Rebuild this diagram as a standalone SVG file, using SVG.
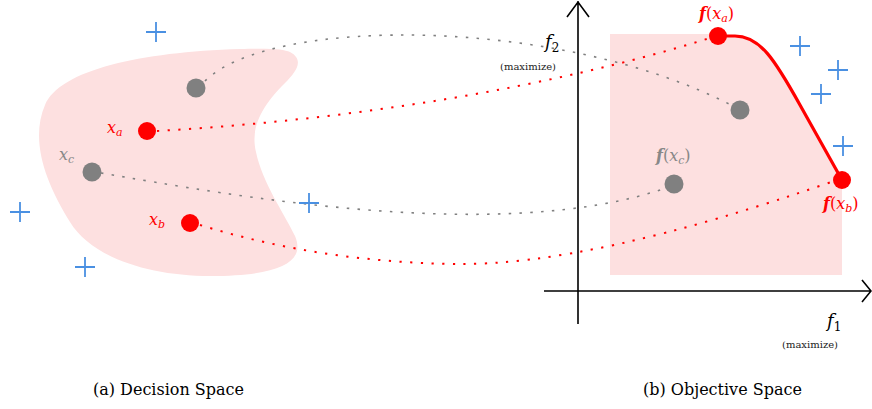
<svg xmlns="http://www.w3.org/2000/svg" width="872" height="409" viewBox="0 0 872 409">
<style>
.region{fill:#fde0e0;stroke:none}
.axis{stroke:#000;stroke-width:1.6;fill:none}
.dotg{stroke:#808080;stroke-width:1.6;fill:none;stroke-dasharray:2.5 8.3}
.dotr{stroke:#ff0000;stroke-width:2;fill:none;stroke-dasharray:2.2 8.5}
.front{stroke:#ff0000;stroke-width:3.2;fill:none}
.pr{fill:#ff0000}
.pg{fill:#808080}
.cross{stroke:#4a90e2;stroke-width:1.8;fill:none}
.lr{fill:#ff0000}
.lg{fill:#888888}
.it{font-style:italic}
.bi{font-style:italic;font-weight:bold}
</style>
<defs>
<path id="plus" class="cross" d="M-10,0 H10 M0,-10 V10"/>
</defs>
<g id="decision-region"><path class="region" d="M290,52 C305,60 296,72 285,83 C262,106 250,127 256,152 C262,182 285,215 295,236 C306,262 280,276 210,276 C150,276 92,258 70,222 C45,182 30,140 45,105 C60,70 140,52 240,49 C270,48 284,49 290,52 Z"/></g>
<g id="objective-region"><path class="region" d="M610,34 L718,34 L735,36 C760,36 775,60 800,105 L842,180 L842,275 L610,275 Z"/></g>
<g id="axes">
<path class="axis" d="M578,1 V324 M567,17 L578,2 L589,17"/>
<path class="axis" d="M544,291 H871 M862,280 L871,291 L862,302"/>
</g>
<g id="connectors">
<path class="dotg" d="M205,81 C270,16 560,16 733,106"/>
<path class="dotr" d="M157,131 C350,120 550,88 710,38"/>
<path class="dotg" d="M101,173 C230,195 500,245 666,188"/>
<path class="dotr" d="M200,225 Q320,262 455,264 Q590,266 834,181"/>
</g>
<g id="pareto-front"><path class="front" d="M718,36 L735,36 C760,36 775,60 800,105 L842,180"/></g>
<g id="points">
<circle id="g1" class="pg" cx="196" cy="88" r="9.5"/>
<circle id="xa" class="pr" cx="147" cy="131" r="9"/>
<circle id="xc" class="pg" cx="92" cy="172" r="9.5"/>
<circle id="xb" class="pr" cx="190" cy="223" r="9"/>
<circle id="fxa" class="pr" cx="718" cy="36" r="9"/>
<circle id="g2" class="pg" cx="740" cy="110" r="9.5"/>
<circle id="fxc" class="pg" cx="674" cy="184" r="9.5"/>
<circle id="fxb" class="pr" cx="842" cy="180" r="9"/>
</g>
<g id="crosses">
<use href="#plus" x="156" y="32"/>
<use href="#plus" x="20" y="212"/>
<use href="#plus" x="85" y="267"/>
<use href="#plus" x="309" y="203"/>
<use href="#plus" x="800" y="46"/>
<use href="#plus" x="838" y="70"/>
<use href="#plus" x="821" y="94"/>
<use href="#plus" x="843" y="146"/>
</g>
<g id="labels" font-family="'DejaVu Serif', serif">
<text class="lr it" x="107" y="133" font-size="16">x<tspan font-size="11" dy="3">a</tspan></text>
<text class="lg it" x="59" y="160" font-size="16">x<tspan font-size="11" dy="3">c</tspan></text>
<text class="lr it" x="149" y="225" font-size="16">x<tspan font-size="11" dy="3">b</tspan></text>
<text class="lr" x="699" y="19" font-size="16"><tspan class="bi">f</tspan>(<tspan class="it">x</tspan><tspan class="it" font-size="11" dy="3">a</tspan><tspan dy="-3">)</tspan></text>
<text class="lg" x="656" y="161" font-size="16"><tspan class="bi">f</tspan>(<tspan class="it">x</tspan><tspan class="it" font-size="11" dy="3">c</tspan><tspan dy="-3">)</tspan></text>
<text class="lr" x="823" y="209" font-size="16"><tspan class="bi">f</tspan>(<tspan class="it">x</tspan><tspan class="it" font-size="11" dy="3">b</tspan><tspan dy="-3">)</tspan></text>
<text x="545" y="48" font-size="18"><tspan class="it">f</tspan><tspan font-size="12" dy="4">2</tspan></text>
<text x="528" y="70" font-size="10" text-anchor="middle" fill="#222">(maximize)</text>
<text x="827" y="327" font-size="18"><tspan class="it">f</tspan><tspan font-size="12" dy="4">1</tspan></text>
<text x="810" y="348" font-size="10" text-anchor="middle" fill="#222">(maximize)</text>
<text x="93" y="395" font-size="16">(a) Decision Space</text>
<text x="643" y="395" font-size="16">(b) Objective Space</text>
</g>
</svg>
